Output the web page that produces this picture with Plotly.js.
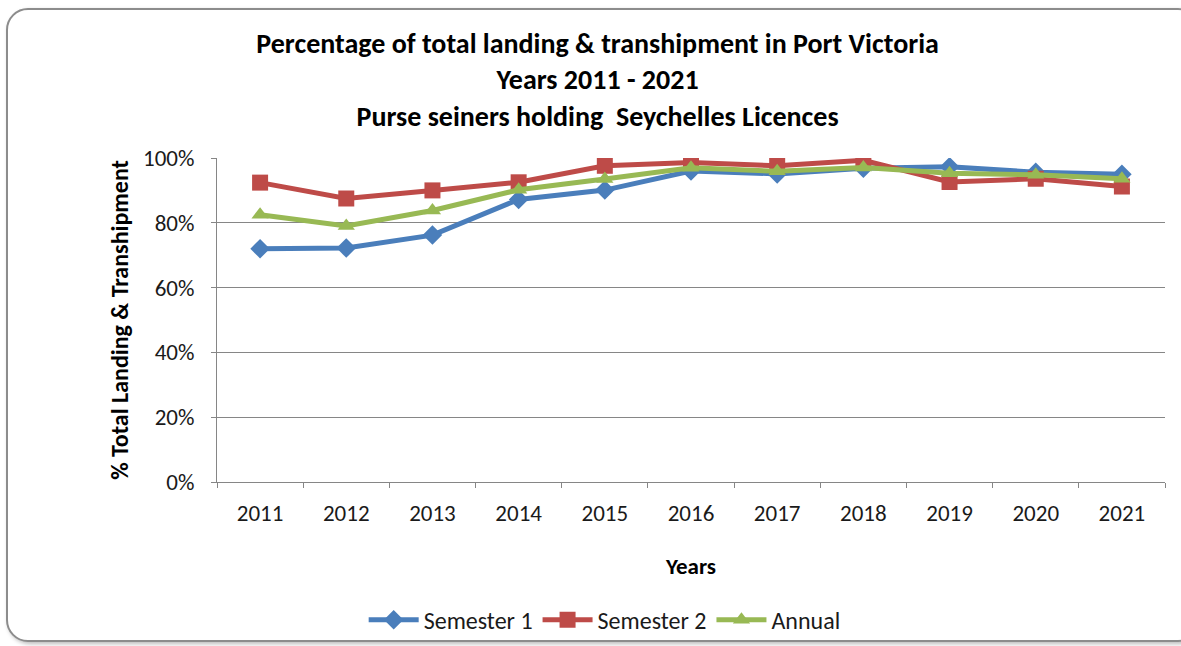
<!DOCTYPE html>
<html>
<head>
<meta charset="utf-8">
<script src="https://cdn.plot.ly/plotly-3.0.1.min.js"></script>
<style>
html,body{margin:0;padding:0;background:#fff;width:1181px;height:646px;overflow:hidden;}
#frame{position:absolute;left:6px;top:8px;width:1190px;height:630px;border:2px solid #8c8c8c;border-radius:22px;box-shadow:2px 2px 4px #bbb;background:#fff;}
#chart{position:absolute;left:0;top:0;width:1181px;height:646px;}
</style>
</head>
<body>
<div id="frame"></div>
<div id="chart"></div>
<script>
const years = ["2011","2012","2013","2014","2015","2016","2017","2018","2019","2020","2021"];
const semester1 = [72.0, 72.2, 76.2, 87.2, 90.1, 96.0, 95.1, 96.8, 97.3, 95.6, 95.0];
const semester2 = [92.4, 87.5, 90.0, 92.5, 97.6, 98.6, 97.6, 99.3, 92.6, 93.6, 91.2];
const annual    = [82.5, 79.0, 83.8, 90.2, 93.5, 97.0, 95.9, 97.1, 95.3, 94.8, 93.6];
const yTicks = [0, 20, 40, 60, 80, 100];
const yTickText = ["0%","20%","40%","60%","80%","100%"];

const FONT = "Carlito, Lato, 'Liberation Sans', sans-serif";
const TXT = "#1a1a1a";

const traces = [
  {x: years, y: semester1, name: "Semester 1", type: "scatter", mode: "lines+markers",
   line: {color: "#4A7EBB", width: 5}, marker: {symbol: "diamond", size: 15, color: "#4A7EBB"}},
  {x: years, y: semester2, name: "Semester 2", type: "scatter", mode: "lines+markers",
   line: {color: "#BE4B48", width: 5}, marker: {symbol: "square", size: 16, color: "#BE4B48"}},
  {x: years, y: annual, name: "Annual", type: "scatter", mode: "lines+markers",
   line: {color: "#98B954", width: 5}, marker: {symbol: "triangle-up", size: 15, color: "#98B954"}}
];

const layout = {
  width: 1181, height: 646,
  paper_bgcolor: "rgba(0,0,0,0)", plot_bgcolor: "rgba(0,0,0,0)",
  margin: {l: 217, r: 16, t: 158, b: 164},
  font: {family: FONT, color: TXT, size: 23},
  title: {
    text: "<b>Percentage of total landing &amp; transhipment in Port Victoria<br>Years 2011 - 2021<br>Purse seiners holding  Seychelles Licences</b>",
    font: {family: FONT, size: 28, color: "#000"},
    x: 0.506, xref: "container", xanchor: "center",
    y: 0.918, yref: "container", yanchor: "top"
  },
  xaxis: {
    type: "category", range: [-0.5, 10.5],
    showline: true, linecolor: "#868686", linewidth: 1,
    ticks: "outside", tickson: "boundaries", ticklen: 5, tickcolor: "#868686",
    showgrid: false, zeroline: false, ticklabelstandoff: 10,
    tickfont: {family: FONT, size: 23, color: TXT},
    title: {text: "<b>Years</b>", font: {family: FONT, size: 23, color: "#000"}, standoff: 32}
  },
  yaxis: {
    range: [0, 100], tickvals: yTicks, ticktext: yTickText,
    showline: true, linecolor: "#868686", linewidth: 1,
    ticks: "outside", ticklen: 5, tickcolor: "#868686",
    showgrid: true, gridcolor: "#868686", gridwidth: 1, zeroline: false,
    ticklabelstandoff: 12,
    tickfont: {family: FONT, size: 23, color: TXT},
    title: {text: "<b>% Total Landing &amp; Transhipment</b>", font: {family: FONT, size: 24, color: "#000"}, standoff: 7}
  },
  legend: {
    orientation: "h", x: 0.512, xref: "container", xanchor: "center",
    y: 0.04, yref: "container", yanchor: "middle",
    font: {family: FONT, size: 24, color: TXT}, itemwidth: 50, tracegroupgap: 0
  },
  showlegend: true
};

Plotly.newPlot("chart", traces, layout, {displayModeBar: false, staticPlot: true});
</script>
</body>
</html>
